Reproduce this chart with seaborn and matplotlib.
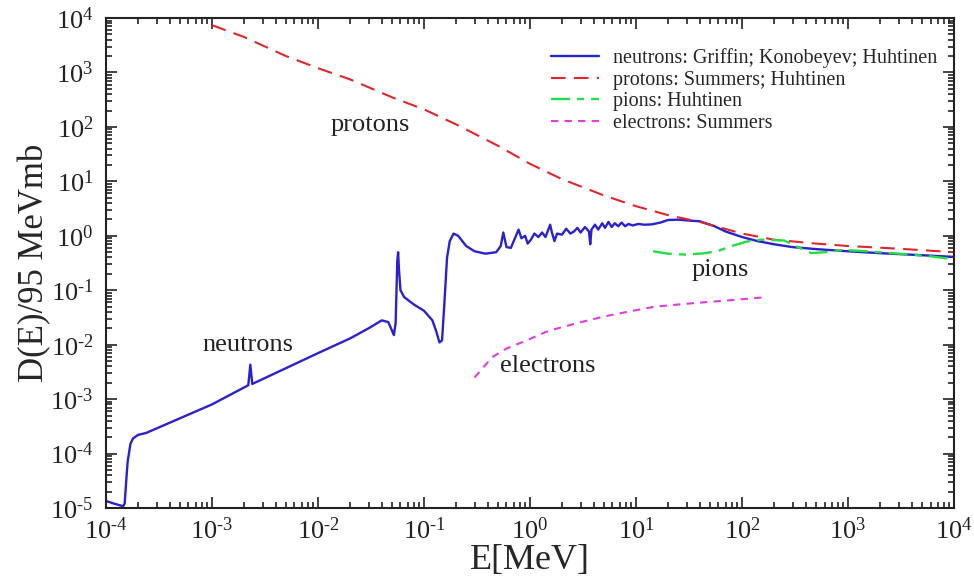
import matplotlib.pyplot as plt
import matplotlib.ticker as mticker
import seaborn as sns
import numpy as np
import pandas as pd

# data (E in MeV, D(E)/95 MeVmb)
neutron_e = [1.0e-4, 1.2e-4, 1.45e-4, 1.5e-4, 1.55e-4, 1.6e-4, 1.7e-4, 1.8e-4, 2.0e-4, 2.4e-4,
             1e-3, 2.2e-3, 2.3e-3, 2.4e-3, 1e-2, 2e-2, 3e-2, 4e-2, 4.6e-2, 5.0e-2, 5.2e-2, 5.4e-2,
             5.6e-2, 5.7e-2, 5.8e-2, 6.0e-2, 6.5e-2, 8e-2, 0.1, 0.12, 0.13, 0.14, 0.148, 0.155,
             0.165, 0.175, 0.19, 0.21, 0.25, 0.3, 0.38, 0.48, 0.53, 0.56, 0.6, 0.66, 0.72, 0.78,
             0.83, 0.9, 0.95, 1.02, 1.1, 1.2, 1.3, 1.4, 1.55, 1.6, 1.7, 1.8, 2.0, 2.2, 2.4, 2.6,
             2.8, 3.0, 3.3, 3.6, 3.7, 3.8, 4.1, 4.4, 4.8, 5.1, 5.5, 5.9, 6.3, 6.8, 7.3, 7.9, 8.5,
             9.3, 10.5, 12, 14, 17, 20, 25, 32, 40, 55, 70, 100, 140, 200, 300, 500, 1000, 2000,
             5000, 10000]
neutron_d = [1.35e-5, 1.2e-5, 1.08e-5, 1.2e-5, 3e-5, 7e-5, 1.5e-4, 1.9e-4, 2.2e-4, 2.4e-4,
             8e-4, 1.8e-3, 4.3e-3, 1.9e-3, 7e-3, 0.013, 0.02, 0.028, 0.026, 0.018, 0.015, 0.025,
             0.35, 0.5, 0.25, 0.1, 0.075, 0.055, 0.042, 0.028, 0.018, 0.011, 0.012, 0.05,
             0.4, 0.8, 1.1, 1.0, 0.65, 0.52, 0.47, 0.5, 0.65, 1.15, 0.62, 0.6, 0.9, 1.3,
             0.9, 1.0, 0.72, 0.85, 1.1, 0.95, 1.15, 0.95, 1.6, 1.2, 0.8, 1.1, 1.05, 1.35, 1.1, 1.2,
             1.4, 1.15, 1.45, 1.2, 0.7, 1.3, 1.6, 1.3, 1.7, 1.4, 1.8, 1.45, 1.7, 1.5, 1.75, 1.5, 1.65,
             1.55, 1.65, 1.6, 1.62, 1.75, 1.95, 1.98, 1.9, 1.85, 1.5, 1.2, 0.95, 0.8, 0.7, 0.62,
             0.57, 0.52, 0.48, 0.44, 0.41]

proton_e = [1e-3, 2e-3, 5e-3, 1e-2, 2e-2, 5e-2, 0.1, 0.2, 0.5, 1, 2, 5, 10, 20, 40, 100,
            200, 500, 1000, 3000, 10000]
proton_d = [7400, 4500, 2000, 1200, 750, 350, 210, 112, 45, 21, 11, 5.5, 3.5, 2.4, 1.8, 1.1,
            0.85, 0.72, 0.65, 0.58, 0.5]

pion_e = [14.5, 20, 30, 45, 60, 80, 110, 150, 250, 350, 450, 600, 900, 1500, 3000, 6000, 10000]
pion_d = [0.52, 0.47, 0.45, 0.48, 0.53, 0.65, 0.78, 0.85, 0.82, 0.6, 0.48, 0.5, 0.55, 0.52,
          0.47, 0.42, 0.37]

electron_e = [0.3, 0.44, 0.6, 0.93, 1.5, 2.8, 5, 8.2, 15, 35, 80, 174]
electron_d = [0.0025, 0.0059, 0.0085, 0.012, 0.018, 0.025, 0.033, 0.040, 0.05, 0.058, 0.066, 0.075]

sns.set_style("ticks")
plt.rcParams['font.family'] = ['Liberation Serif', 'DejaVu Serif']
plt.rcParams['mathtext.fontset'] = 'custom'
plt.rcParams['mathtext.rm'] = 'Liberation Serif'
plt.rcParams['mathtext.it'] = 'Liberation Serif:italic'
plt.rcParams['axes.unicode_minus'] = False

fig = plt.figure(figsize=(9.74, 5.82), dpi=100)
ax = fig.add_axes([0.1088, 0.1271, 0.8707, 0.8419])

sns.lineplot(x=neutron_e, y=neutron_d, ax=ax, color='#2a22cc', lw=1.7, sort=False,
             estimator=None, label='neutrons: Griffin; Konobeyev; Huhtinen')
sns.lineplot(x=proton_e, y=proton_d, ax=ax, color='#e0262a', lw=1.5, sort=False,
             estimator=None, linestyle=(0, (7, 4)), label='protons: Summers; Huhtinen')
sns.lineplot(x=pion_e, y=pion_d, ax=ax, color='#22dd44', lw=1.7, sort=False,
             estimator=None, linestyle=(0, (8, 3, 3, 3)), label='pions: Huhtinen')
sns.lineplot(x=electron_e, y=electron_d, ax=ax, color='#e23ae2', lw=1.5, sort=False,
             estimator=None, linestyle=(0, (3.5, 3)), label='electrons: Summers')

ax.set_xscale('log')
ax.set_yscale('log')
ax.set_xlim(1e-4, 1e4)
ax.set_ylim(1e-5, 1e4)


def pow_label(v, pos):
    n = int(round(np.log10(v)))
    if n < 0:
        return r'$\mathdefault{10^{\text{-}%d}}$' % (-n)
    return r'$\mathdefault{10^{%d}}$' % n


for axis in (ax.xaxis, ax.yaxis):
    axis.set_major_locator(mticker.LogLocator(base=10, numticks=30))
    axis.set_major_formatter(mticker.FuncFormatter(pow_label))
    axis.set_minor_locator(mticker.LogLocator(base=10, subs=np.arange(2, 10), numticks=100))
    axis.set_minor_formatter(mticker.NullFormatter())

ax.tick_params(which='both', direction='in', top=True, right=True, width=1.2, colors='#222222')
ax.tick_params(which='major', length=8, labelsize=19)
ax.tick_params(which='minor', length=4)
ax.tick_params(axis='x', which='major', pad=7)
ax.tick_params(axis='y', which='major', pad=9)
for s in ax.spines.values():
    s.set_linewidth(1.5)
    s.set_color('#222222')

ax.set_xlabel('E[MeV]', fontsize=26, labelpad=0)
ax.set_ylabel('D(E)/95 MeVmb', fontsize=25, labelpad=-1)

ax.text(0.031, 107, 'protons', fontsize=19, ha='center', va='center', color='#222222')
ax.text(2.2e-3, 0.0098, 'neutrons', fontsize=19, ha='center', va='center', color='#222222')
ax.text(1.48, 4e-3, 'electrons', fontsize=19, ha='center', va='center', color='#222222')
ax.text(62, 0.24, 'pions', fontsize=19, ha='center', va='center', color='#222222')

ax.legend(loc='upper right', bbox_to_anchor=(0.99, 0.955), frameon=False, fontsize=14.5,
          handlelength=2.4, handletextpad=0.7, labelspacing=0.12, borderaxespad=0)

fig.savefig('out.png', dpi=100)
